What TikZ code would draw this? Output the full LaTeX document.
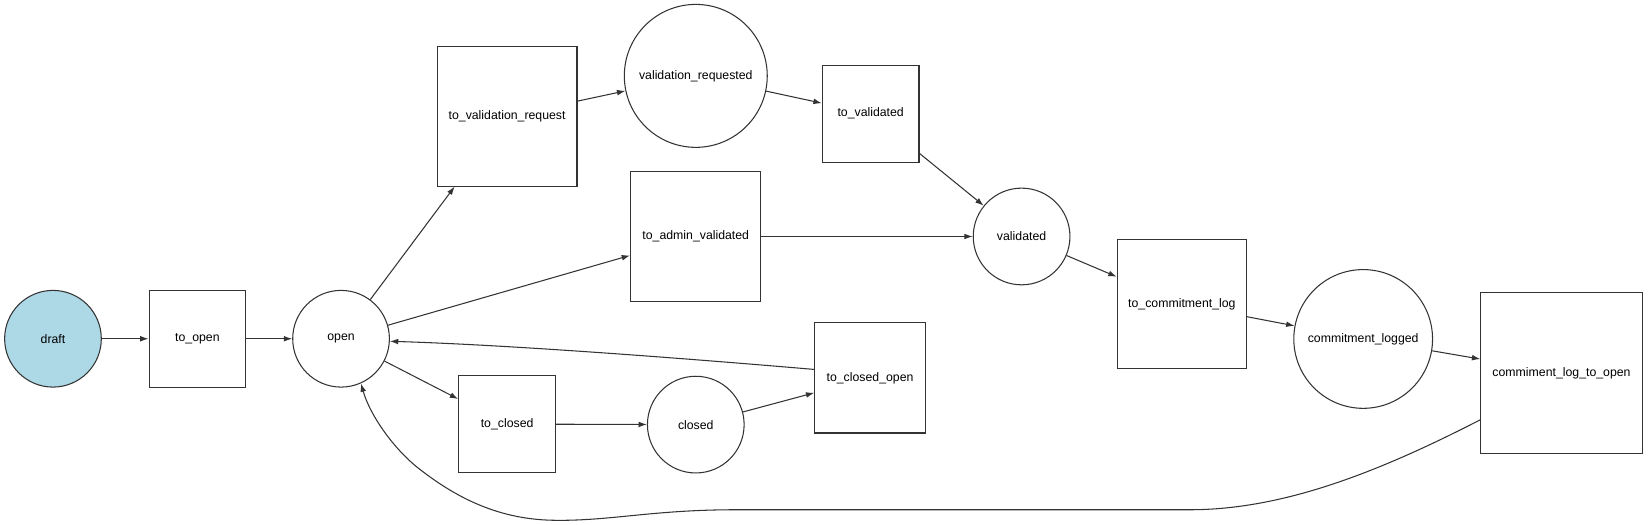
\documentclass[tikz,border=0pt]{standalone}
\usepackage{fontspec}
\setmainfont{Liberation Sans}
\usepackage{xcolor}
\usepackage{tikz}
\usetikzlibrary{arrows.meta}

\definecolor{draftblue}{HTML}{ADD8E6}
\definecolor{linegray}{HTML}{333333}

\begin{document}
\begin{tikzpicture}[x=1pt,y=-1pt,>={Latex[length=8pt,width=5.5pt]},
 every node/.style={font=\fontsize{11.7}{14}\selectfont},
 place/.style={circle,draw=linegray,line width=1pt,minimum size=92pt,inner sep=0pt},
 trans/.style={rectangle,draw=linegray,line width=1pt,minimum size=92pt,inner sep=0pt},
 every edge/.style={draw=linegray,line width=1pt}]
 \useasboundingbox (0,0) rectangle (1568,499.5);

 \node[place,fill=draftblue] (draft) at (50.4,322.3) {draft};
 \node[trans] (toopen) at (187.8,322.3) {to\_open};
 \node[place] (open) at (324.5,322.3) {open};
 \node[trans,minimum size=133pt] (tovalreq) at (482.5,110.5) {to\_validation\_request};
 \node[place,minimum size=136pt] (valreq) at (662,72.2) {validation\_requested};
 \node[trans] (toval) at (828.4,108.2) {to\_validated};
 \node[trans,minimum size=124pt] (toadmin) at (662,225) {to\_admin\_validated};
 \node[place] (validated) at (972,225) {validated};
 \node[trans,minimum size=123pt] (tolog) at (1124.5,289.5) {to\_commitment\_log};
 \node[place,minimum size=132pt] (logged) at (1297,322.5) {commitment\_logged};
 \node[trans,minimum size=153.5pt] (logtoopen) at (1485.7,354.9) {commiment\_log\_to\_open};
 \node[trans] (toclosed) at (482.5,403.5) {to\_closed};
 \node[place] (closed) at (662,404) {closed};
 \node[trans,minimum size=105pt] (toclopen) at (827.8,359.5) {to\_closed\_open};

 \path[->] (draft) edge (toopen)
 (toopen) edge (open)
 (open) edge (tovalreq)
 (open) edge (toadmin)
 (open) edge (toclosed)
 (tovalreq) edge (valreq)
 (valreq) edge (toval)
 (toval) edge (validated)
 (toadmin) edge (validated)
 (validated) edge (tolog)
 (tolog) edge (logged)
 (logged) edge (logtoopen)
 (toclosed) edge (closed)
 (closed) edge (toclopen);

 % back to open
 \draw[->,linegray,line width=1pt] ([yshift=8pt]toclopen.west)
 .. controls (640,340) and (480,328) .. (open.-3);
 \draw[->,linegray,line width=1pt] ([yshift=-44.5pt]logtoopen.west)
 .. controls (1310,450) and (1220,485) .. (1132,485) -- (700,485)
 .. controls (620,485) and (580,496) .. (526,495)
 .. controls (470,494) and (430,470) .. (400,447)
 .. controls (375,428) and (352,395) .. (open.-66);
\end{tikzpicture}
\end{document}
